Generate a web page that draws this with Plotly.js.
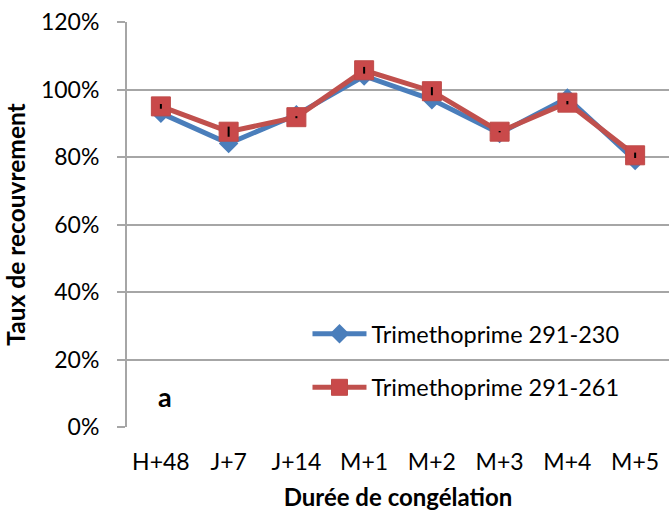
<!DOCTYPE html>
<html>
<head>
<meta charset="utf-8">
<script src="https://cdn.plot.ly/plotly-3.0.1.min.js"></script>
<style>html,body{margin:0;padding:0;background:#fff;}#chart{width:669px;height:518px;}</style>
</head>
<body>
<div id="chart"></div>
<script>
var categories = ["H+48", "J+7", "J+14", "M+1", "M+2", "M+3", "M+4", "M+5"];
var series230 = [0.93, 0.84, 0.925, 1.04, 0.97, 0.87, 0.975, 0.79];
var series261 = [0.95, 0.875, 0.918, 1.057, 0.995, 0.875, 0.961, 0.805];
var errors261 = [0.007, 0.015, 0.003, 0.01, 0.012, 0.002, 0.005, 0.008];
var seriesNames = ["Trimethoprime 291-230", "Trimethoprime 291-261"];
var yTickVals = [0, 0.2, 0.4, 0.6, 0.8, 1.0, 1.2];

var FONT = "Lato, 'Open Sans', sans-serif";

var traces = [
  {
    x: categories, y: series230, name: seriesNames[0], type: "scatter", mode: "lines+markers",
    legendgroup: "a",
    line: {color: "#4A7EBB", width: 5},
    marker: {symbol: "diamond", size: 15, color: "#4A7EBB", line: {width: 0}}
  },
  {
    x: categories, y: series261, name: seriesNames[1], type: "scatter", mode: "lines+markers",
    legendgroup: "b",
    line: {color: "#C0504D", width: 5},
    marker: {symbol: "square", size: 19, color: "#C9494A", line: {width: 1, color: "#BE4B48"}}
  },
  {
    x: categories, y: series261, type: "scatter", mode: "markers", showlegend: false,
    hoverinfo: "skip",
    marker: {size: 1, opacity: 0},
    error_y: {type: "data", array: errors261, visible: true, color: "#000000", thickness: 2, width: 0}
  }
];

var layout = {
  width: 669, height: 518,
  margin: {l: 127, r: 0, t: 22, b: 91, pad: 0},
  paper_bgcolor: "#ffffff", plot_bgcolor: "#ffffff",
  font: {family: FONT, size: 23, color: "#000000"},
  showlegend: true,
  legend: {
    x: 0.333, y: 0.163, xanchor: "left", yanchor: "middle",
    bgcolor: "rgba(0,0,0,0)", borderwidth: 0,
    font: {family: FONT, size: 23.5, color: "#000"},
    traceorder: "grouped", tracegroupgap: 20, itemwidth: 54
  },
  xaxis: {
    type: "category",
    range: [-0.5, 7.5],
    showgrid: false, zeroline: false,
    showline: false,
    ticks: "",
    ticklabelstandoff: 19,
    tickfont: {family: FONT, size: 23, color: "#000"},
    title: {text: "<b>Durée de congélation</b>", font: {family: FONT, size: 24, color: "#000"}, standoff: 15}
  },
  yaxis: {
    range: [0, 1.2],
    tickvals: yTickVals,
    tickformat: ".0%",
    showgrid: true, gridcolor: "#A6A6A6", gridwidth: 2,
    zeroline: false,
    showline: true, linecolor: "#A6A6A6", linewidth: 2,
    ticks: "outside", ticklen: 8, tickwidth: 2, tickcolor: "#A6A6A6",
    ticklabelstandoff: 13,
    tickfont: {family: FONT, size: 23, color: "#000"},
    title: {text: "<b>Taux de recouvrement</b>", font: {family: FONT, size: 24.5, color: "#000"}, standoff: 8}
  },
  annotations: [
    {xref: "paper", yref: "paper", x: 0.07, y: 0.075, text: "<b>a</b>", showarrow: false,
     font: {family: FONT, size: 27, color: "#000"}, xanchor: "center", yanchor: "middle"}
  ]
};

Plotly.newPlot("chart", traces, layout, {displayModeBar: false, staticPlot: true});
</script>
</body>
</html>
